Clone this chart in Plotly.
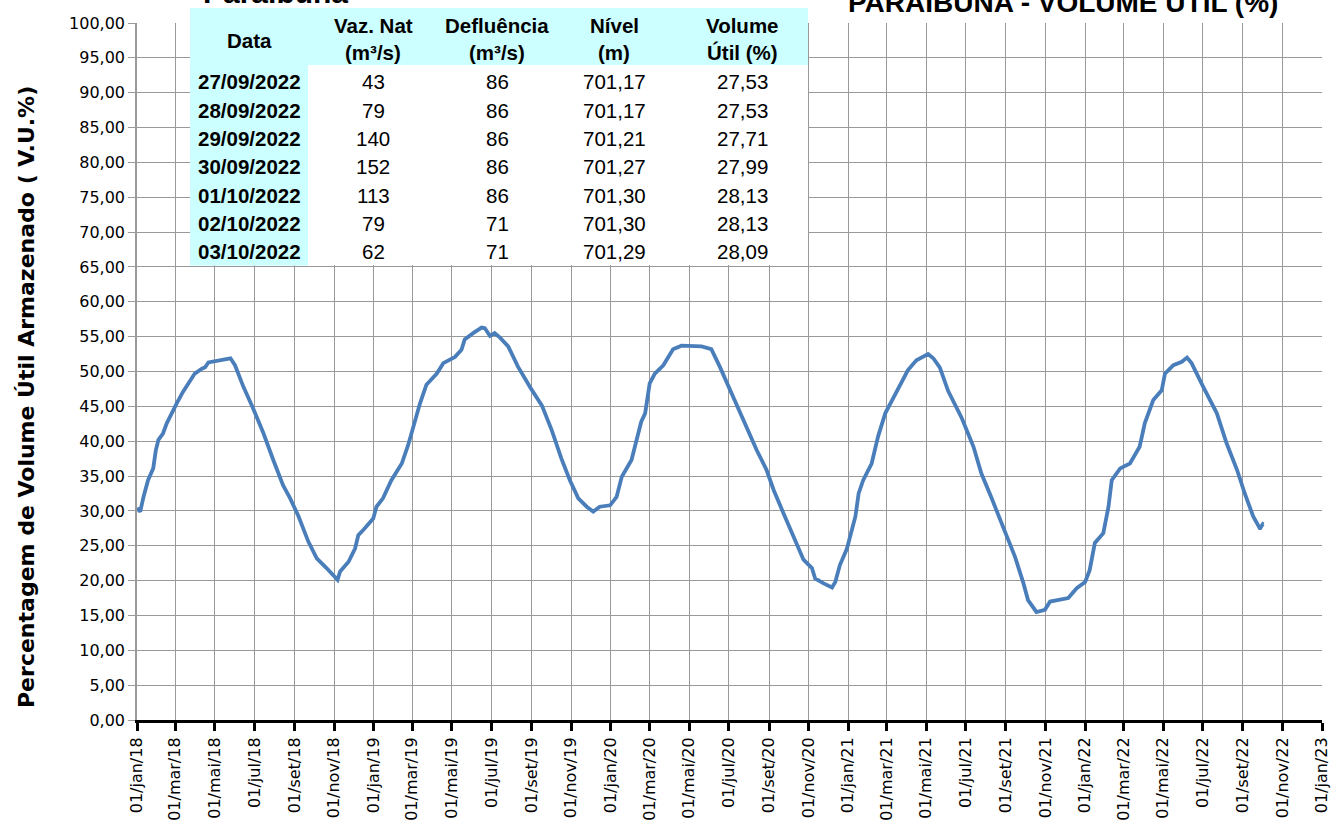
import pandas as pd
import plotly.graph_objects as go

# ---------------- data ----------------
start_date = "2018-01-01"
day_offset = [0, 5, 10, 15, 17, 25, 29, 33, 40, 46, 53, 61, 71, 82, 89, 100, 105, 110, 123, 138,
              144, 151, 164, 179, 195, 210, 225, 236, 249, 264, 277, 292, 305, 309, 313, 326, 336, 341, 349, 364,
              369, 379, 392, 408, 418, 428, 436, 446, 462, 472, 490, 500, 505, 518, 531, 536, 544, 551, 559, 572,
              587, 606, 624, 639, 654, 667, 680, 693, 703, 713, 729, 739, 747, 762, 770, 777, 783, 790, 798, 811,
              826, 839, 870, 885, 898, 914, 926, 942, 955, 970, 981, 996, 1012, 1027, 1040, 1045, 1058, 1071, 1076, 1083,
              1094, 1107, 1112, 1119, 1132, 1142, 1153, 1171, 1188, 1201, 1219, 1227, 1237, 1250, 1271, 1289, 1301, 1317, 1330, 1342,
              1353, 1366, 1373, 1386, 1399, 1407, 1435, 1448, 1461, 1468, 1476, 1489, 1497, 1502, 1515, 1530, 1545, 1553, 1566, 1579,
              1584, 1597, 1610, 1618, 1625, 1643, 1664, 1679, 1695, 1707, 1720, 1730, 1731, 1732, 1733, 1734, 1735, 1736]
volume_util = [30.4, 29.9, 32.0, 34.0, 34.4, 36.1, 38.7, 40.2, 41.1, 42.6, 44.0, 45.4, 47.1, 48.8, 49.7, 50.4, 50.6, 51.3, 51.5, 51.8,
               51.9, 50.9, 47.8, 44.7, 41.1, 37.3, 33.7, 31.8, 29.2, 25.6, 23.2, 21.8, 20.6, 20.1, 21.3, 22.7, 24.6, 26.5, 27.3, 28.9,
               30.6, 31.8, 34.4, 36.8, 39.5, 43.0, 45.4, 48.1, 49.7, 51.2, 52.1, 53.1, 54.6, 55.5, 56.3, 56.2, 55.1, 55.5, 54.9, 53.6,
               50.7, 47.7, 45.1, 41.6, 37.5, 34.4, 31.8, 30.6, 29.9, 30.6, 30.8, 32.0, 34.9, 37.3, 40.2, 42.8, 44.0, 48.3, 49.7, 50.9,
               53.2, 53.7, 53.6, 53.2, 50.7, 47.3, 45.0, 41.4, 38.7, 35.9, 33.0, 29.7, 26.3, 23.0, 21.8, 20.3, 19.6, 19.0, 19.8, 22.2,
               24.6, 29.2, 32.5, 34.4, 36.8, 40.7, 44.0, 47.3, 50.2, 51.6, 52.5, 51.9, 50.6, 47.2, 43.3, 39.2, 35.4, 31.8, 28.7, 25.8,
               23.4, 19.6, 17.2, 15.5, 15.8, 17.0, 17.5, 18.9, 19.8, 21.5, 25.4, 26.8, 30.6, 34.4, 36.1, 36.8, 39.2, 42.6, 45.9, 47.3,
               49.7, 50.9, 51.4, 52.0, 51.2, 47.8, 44.0, 39.7, 35.9, 32.5, 29.2, 27.53, 27.53, 27.71, 27.99, 28.13, 28.13, 28.09]

x_tick_dates = pd.date_range("2018-01-01", "2023-01-01", freq="2MS")
month_abbr = {1: "jan", 3: "mar", 5: "mai", 7: "jul", 9: "set", 11: "nov"}
x_tick_text = [f"01/{month_abbr[d.month]}/{d.strftime('%y')}" for d in x_tick_dates]
y_ticks = list(range(0, 101, 5))

table_headers = [["Data"], ["Vaz. Nat", "(m³/s)"], ["Defluência", "(m³/s)"], ["Nível", "(m)"], ["Volume", "Útil (%)"]]
table_dates = ["27/09/2022", "28/09/2022", "29/09/2022", "30/09/2022", "01/10/2022", "02/10/2022", "03/10/2022"]
table_vaz_nat = ["43", "79", "140", "152", "113", "79", "62"]
table_defluencia = ["86", "86", "86", "86", "86", "71", "71"]
table_nivel = ["701,17", "701,17", "701,21", "701,27", "701,30", "701,30", "701,29"]
table_volume = ["27,53", "27,53", "27,71", "27,99", "28,13", "28,13", "28,09"]

title_text = "PARAIBUNA - VOLUME ÚTIL (%)"
subtitle_text = "Paraibuna"
y_title = "Percentagem de Volume Útil Armazenado ( V.U.%)"

# ---------------- layout helpers ----------------
W, H = 1333, 825
L, R, T, B = 137, 1322, 23, 720


def px(xp):
    return (xp - L) / (R - L)


def py(yp):
    return (B - yp) / (B - T)


dates = pd.to_datetime(start_date) + pd.to_timedelta(day_offset, unit="D")

fig = go.Figure()
fig.add_trace(go.Scatter(x=dates, y=volume_util, mode="lines",
                         line=dict(color="#4A7EBB", width=3.8), hoverinfo="x+y", showlegend=False))

grid = "#999999"
fig.update_layout(
    width=W, height=H,
    margin=dict(l=L, r=W - R, t=T, b=H - B, pad=0, autoexpand=False),
    plot_bgcolor="white", paper_bgcolor="white",
    separators=",.",
    showlegend=False,
    xaxis=dict(
        type="date", range=["2018-01-01", "2023-01-01"], automargin=False,
        tickvals=list(x_tick_dates), ticktext=x_tick_text, tickangle=-90,
        tickfont=dict(family="DejaVu Sans", size=16, color="black"),
        showgrid=True, gridcolor=grid, gridwidth=1.3,
        showline=True, linecolor="black", linewidth=3,
        ticks="outside", ticklen=8, tickwidth=2.5, tickcolor="black",
        zeroline=False, fixedrange=True,
    ),
    yaxis=dict(
        range=[0, 100], tickvals=y_ticks, tickformat=".2f", automargin=False,
        tickfont=dict(family="DejaVu Sans", size=16, color="black"),
        showgrid=True, gridcolor=grid, gridwidth=1.3,
        showline=True, linecolor=grid, linewidth=1.5,
        ticks="outside", ticklen=7, tickwidth=1.3, tickcolor=grid,
        zeroline=False, fixedrange=True,
    ),
)

shapes = []
# table background and cyan cells
shapes.append(dict(type="rect", xref="paper", yref="paper", x0=px(190), x1=px(808), y0=py(265), y1=py(8),
                   fillcolor="white", line=dict(width=0), layer="above"))
shapes.append(dict(type="rect", xref="paper", yref="paper", x0=px(190), x1=px(808), y0=py(65), y1=py(8),
                   fillcolor="#CCFFFF", line=dict(width=0), layer="above"))
shapes.append(dict(type="rect", xref="paper", yref="paper", x0=px(190), x1=px(308), y0=py(265.5), y1=py(65),
                   fillcolor="#CCFFFF", line=dict(width=0), layer="above"))
fig.update_layout(shapes=shapes)

ann = []
col_x = [249, 373, 497, 614, 743]
tf = "Liberation Sans"
for cx, hdr in zip(col_x, table_headers):
    if len(hdr) == 1:
        ann.append(dict(x=px(cx), y=py(40), text=f"<b>{hdr[0]}</b>"))
    else:
        ann.append(dict(x=px(cx), y=py(25), text=f"<b>{hdr[0]}</b>"))
        ann.append(dict(x=px(cx), y=py(52), text=f"<b>{hdr[1]}</b>"))
row_y0, row_dy = 82, 28.33
for i in range(len(table_dates)):
    yy = py(row_y0 + i * row_dy)
    ann.append(dict(x=px(col_x[0]), y=yy, text=f"<b>{table_dates[i]}</b>"))
    ann.append(dict(x=px(col_x[1]), y=yy, text=table_vaz_nat[i]))
    ann.append(dict(x=px(col_x[2]), y=yy, text=table_defluencia[i]))
    ann.append(dict(x=px(col_x[3]), y=yy, text=table_nivel[i]))
    ann.append(dict(x=px(col_x[4]), y=yy, text=table_volume[i]))
for a in ann:
    a.update(xref="paper", yref="paper", xanchor="center", yanchor="middle", showarrow=False,
             font=dict(family=tf, size=20.5, color="black"))

# titles
ann.append(dict(x=px(1063), y=py(13), xref="paper", yref="paper", xanchor="center", yanchor="bottom",
                yshift=-7, showarrow=False, text=f"<b>{title_text}</b>",
                font=dict(family=tf, size=28, color="black")))
ann.append(dict(x=px(275), y=py(4), xref="paper", yref="paper", xanchor="center", yanchor="bottom",
                yshift=-7, showarrow=False, text=f"<b>{subtitle_text}</b>",
                font=dict(family=tf, size=30, color="black")))
ann.append(dict(x=px(26), y=py(397), xref="paper", yref="paper", xanchor="center", yanchor="middle",
                showarrow=False, textangle=-90, text=f"<b>{y_title}</b>",
                font=dict(family="DejaVu Sans", size=22, color="black")))
fig.update_layout(annotations=ann)

fig.write_html("out.html", config={"displayModeBar": False},
               post_script="document.body.style.margin='0px';document.body.style.overflow='hidden';")
